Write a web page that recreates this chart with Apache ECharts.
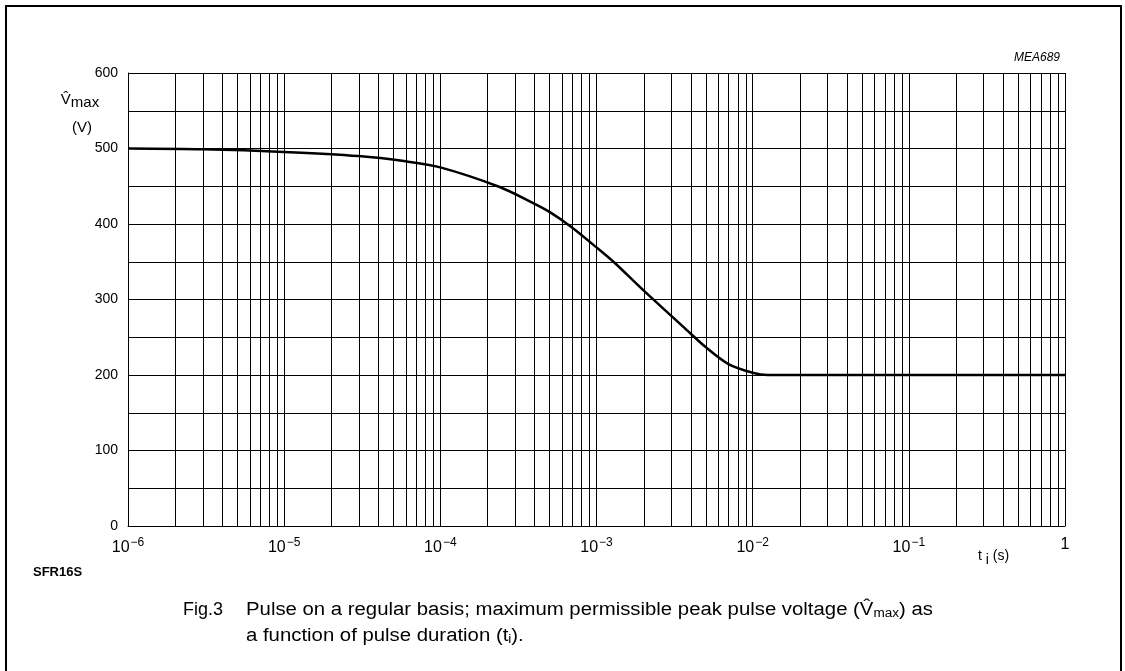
<!DOCTYPE html>
<html>
<head>
<meta charset="utf-8">
<style>
  html, body { margin: 0; padding: 0; background: #fff; }
  #chart { width: 1125px; height: 671px; }
</style>
<script src="https://cdn.jsdelivr.net/npm/echarts@6/dist/echarts.min.js"></script>
</head>
<body>
<div id="chart"></div>
<script>
// pulse duration t_i (s) and max peak pulse voltage (V)
const pulseTime = [1e-6, 3e-6, 1e-5, 3e-5, 6e-5, 1e-4, 2.4e-4, 3.9e-4, 5e-4, 6.9e-4, 1e-3, 1.3e-3, 2e-3, 4e-3, 5e-3, 7e-3, 1e-2, 1.25e-2, 2e-2, 1];
const peakVoltage = [500, 499, 495.5, 490, 483, 475, 449, 428, 416, 396, 369, 349, 312, 255, 237, 214.5, 203, 200, 200, 200];

// minor log grid (2..9 per decade)
const minorTicks = [];
for (let e = -6; e < 0; e++) {
    for (let m = 2; m <= 9; m++) minorTicks.push(m * Math.pow(10, e));
}

const yTickLabels = [0, 100, 200, 300, 400, 500, 600];

const chart = echarts.init(document.getElementById('chart'));
const font = 'Liberation Sans, Arial, sans-serif';
const capFont = 'Liberation Sans, Arial, sans-serif';

const option = {
    animation: false,
    backgroundColor: '#fff',
    grid: { left: 128, top: 73, right: 60, bottom: 145 },
    xAxis: {
        type: 'log',
        logBase: 10,
        min: 1e-6,
        max: 1,
        axisLine: { show: true, lineStyle: { color: '#000', width: 1 } },
        axisTick: { show: false },
        splitLine: { show: true, lineStyle: { color: '#000', width: 1 } },
        axisLabel: {
            color: '#000',
            fontFamily: font,
            fontSize: 16,
            margin: 11,
            formatter: v => {
                const e = Math.round(Math.log10(v));
                return e === 0 ? '1' : '10{sup|\u2212' + (-e) + '}';
            },
            rich: { sup: { fontSize: 12, fontFamily: font, color: '#000', padding: [0, 0, 10, 1] } }
        }
    },
    yAxis: {
        type: 'value',
        min: 0,
        max: 600,
        interval: 50,
        axisLine: { show: true, lineStyle: { color: '#000', width: 1 } },
        axisTick: { show: false },
        splitLine: { show: true, lineStyle: { color: '#000', width: 1 } },
        axisLabel: {
            color: '#000',
            fontFamily: font,
            fontSize: 14,
            margin: 10,
            formatter: v => (yTickLabels.includes(v) ? String(v) : '')
        }
    },
    series: [{
        // minor vertical grid lines
        type: 'custom',
        silent: true,
        z: 1,
        data: minorTicks.map(v => [v, 0]),
        renderItem: (params, api) => {
            const top = api.coord([api.value(0), 600]);
            const bot = api.coord([api.value(0), 0]);
            const x = Math.round(top[0]) + 0.5;
            return {
                type: 'line',
                shape: { x1: x, y1: top[1], x2: x, y2: bot[1] },
                style: { stroke: '#000', lineWidth: 1 }
            };
        }
    }, {
        type: 'line',
        z: 3,
        data: pulseTime.map((t, i) => [t, peakVoltage[i]]),
        smooth: 0.3,
        showSymbol: false,
        lineStyle: { color: '#000', width: 2.5 }
    }],
    graphic: [
        // outer frame
        { type: 'rect', shape: { x: 6, y: 6, width: 1115, height: 700 }, style: { fill: 'none', stroke: '#000', lineWidth: 2 } },
        { type: 'text', x: 1060, y: 52, style: { text: 'MEA689', font: 'italic 12px ' + font, fill: '#000', align: 'right' } },
        {
            type: 'text', x: 80, y: 90,
            style: {
                text: 'V\u0302{s|max}', font: '15px ' + font, fill: '#000', align: 'center',
                rich: { s: { font: '15px ' + font, fill: '#000', padding: [5, 0, 0, 0] } }
            }
        },
        { type: 'text', x: 82, y: 120, style: { text: '(V)', font: '15px ' + font, fill: '#000', align: 'center' } },
        {
            type: 'text', x: 978, y: 546,
            style: {
                text: 't {s|i} (s)', font: '14px ' + font, fill: '#000',
                rich: { s: { font: '14px ' + font, fill: '#000', padding: [7, 0, 0, 0] } }
            }
        },
        { type: 'text', x: 33, y: 566, style: { text: 'SFR16S', font: 'bold 13px ' + font, fill: '#000' } },
        { type: 'text', x: 183, y: 601, style: { text: 'Fig.3', font: '18px ' + capFont, fill: '#000' } },
        {
            type: 'text', x: 246, y: 601, scaleX: 1.13,
            style: {
                text: 'Pulse on a regular basis; maximum permissible peak pulse voltage (V\u0302{s|max}) as',
                font: '18px ' + capFont, fill: '#000',
                rich: { s: { font: '12px ' + capFont, fill: '#000', padding: [7, 0, 0, 0] } }
            }
        },
        {
            type: 'text', x: 246, y: 627, scaleX: 1.13,
            style: {
                text: 'a function of pulse duration (t{s|i}).',
                font: '18px ' + capFont, fill: '#000',
                rich: { s: { font: '12px ' + capFont, fill: '#000', padding: [7, 0, 0, 0] } }
            }
        }
    ]
};

chart.setOption(option);
</script>
</body>
</html>
